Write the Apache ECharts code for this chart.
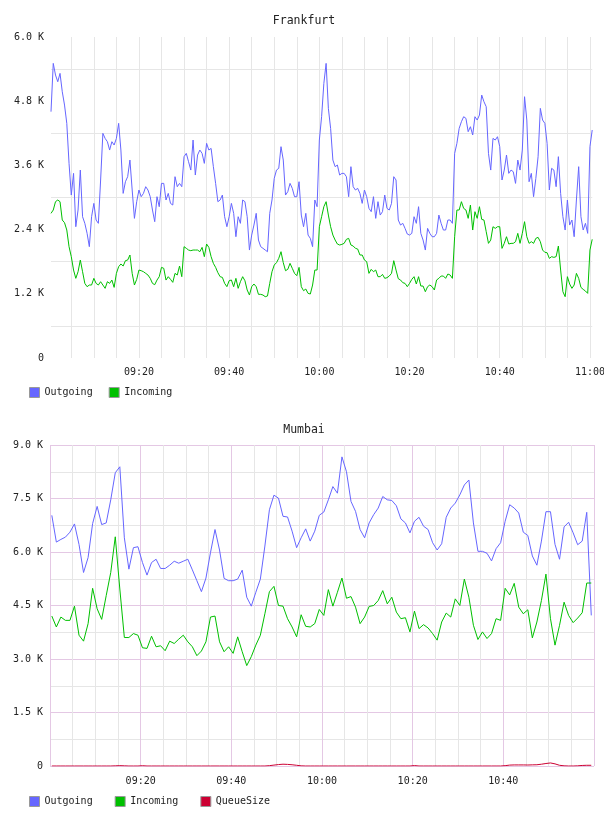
<!DOCTYPE html>
<html>
<head>
<meta charset="utf-8">
<title>Frankfurt / Mumbai</title>
<script src="https://cdn.jsdelivr.net/npm/echarts@6/dist/echarts.min.js"></script>
<style>
body{margin:0;background:#fff;}
#wrap{width:604px;height:816px;overflow:hidden;}
#main{width:608px;height:816px;}
</style>
</head>
<body>
<div id="wrap"><div id="main"></div></div>
<script>
// times are minutes after 09:00
var frankfurtStart = 0.5, frankfurtStep = 0.5;
var frankfurtOut = [
 4604,5507,5289,5164,5320,4977,4728,4386,3638,3046,
 3451,2454,2766,3513,2641,2517,2330,2081,2641,2890,
 2579,2517,3327,4199,4105,4043,3887,4043,3981,4105,
 4386,3887,3077,3295,3389,3700,3140,2610,2922,3140,
 3015,3077,3202,3140,3015,2766,2548,3015,2828,3264,
 3264,2953,3077,2890,2859,3389,3202,3264,3202,3763,
 3825,3669,3513,4074,3420,3794,3887,3825,3638,4012,
 3887,3918,3576,3264,2922,2953,3046,2641,2454,2641,
 2890,2704,2267,2641,2517,2953,2922,2641,2018,2298,
 2485,2704,2205,2081,2050,2018,1987,2704,2953,3358,
 3513,3545,3950,3700,3046,3108,3264,3171,3015,3015,
 3295,2672,2454,2704,2298,2236,2081,2953,2828,4074,
 4510,5133,5507,4666,4292,3700,3576,3607,3420,3451,
 3451,3389,3015,3576,3202,3140,3171,3077,2890,3140,
 3015,2797,2735,3015,2610,2922,2672,2735,3046,2797,
 2766,2890,3389,3327,2579,2485,2517,2423,2317,2298,
 2330,2641,2517,2828,2330,2205,2018,2423,2330,2267,
 2267,2330,2672,2517,2392,2392,2579,2579,2517,3825,
 4012,4292,4417,4510,4479,4230,4323,4168,4510,4448,
 4541,4915,4790,4697,3825,3513,4105,4074,4136,3950,
 3327,3513,3794,3451,3513,3482,3264,3700,3513,3887,
 4884,4448,3295,3451,3015,3358,3763,4666,4448,4386,
 4012,3140,3545,3513,3202,3763,3077,2641,2392,2953,
 2485,2579,2267,2953,3576,2641,2392,2517,2330,3950,
 4261
];
var frankfurtIn = [
 2704,2766,2922,2953,2922,2579,2529,2392,2081,1894,
 1644,1489,1613,1831,1613,1395,1333,1364,1364,1489,
 1395,1364,1426,1364,1302,1426,1395,1457,1320,1582,
 1707,1757,1719,1819,1831,1925,1582,1364,1470,1644,
 1632,1613,1582,1551,1489,1395,1370,1457,1520,1694,
 1676,1457,1520,1470,1414,1582,1551,1719,1520,2081,
 2050,2018,2006,2018,2018,2018,1987,2068,1894,2130,
 2068,1894,1769,1694,1595,1520,1507,1395,1333,1445,
 1458,1333,1489,1302,1426,1520,1445,1271,1177,1333,
 1383,1333,1190,1190,1177,1146,1159,1395,1613,1738,
 1782,1863,1987,1782,1632,1657,1769,1676,1582,1539,
 1694,1333,1258,1289,1208,1196,1364,1644,1644,2454,
 2641,2828,2922,2672,2454,2298,2205,2130,2112,2124,
 2143,2218,2236,2112,2093,2050,2037,1925,1925,1831,
 1800,1582,1657,1613,1644,1520,1520,1563,1489,1501,
 1532,1582,1819,1644,1483,1458,1408,1395,1333,1395,
 1470,1520,1383,1520,1345,1345,1239,1333,1364,1333,
 1271,1458,1489,1532,1532,1489,1570,1551,1489,2267,
 2766,2766,2922,2797,2766,2610,2859,2392,2735,2610,
 2828,2591,2579,2361,2143,2205,2454,2423,2454,2454,
 2049,2143,2267,2130,2143,2143,2174,2330,2143,2330,
 2548,2267,2143,2174,2143,2236,2255,2174,2018,1975,
 1968,1862,1894,1881,1894,2093,1644,1240,1146,1520,
 1383,1302,1364,1582,1489,1320,1283,1252,1208,2018,
 2218
];
var frankfurtLabelTimes = [20, 40, 60, 80, 100, 120];
var frankfurtGridTimes = [5,10,15,20,25,30,35,40,45,50,55,60,65,70,75,80,85,90,95,100,105,110,115,120];
var frankfurtYLabels = [0, 1200, 2400, 3600, 4800, 6000];
var frankfurtYGrid = [600, 1800, 3000, 4200, 5400];

var mumbaiStart = 0.4, mumbaiStep = 1;
var mumbaiOut = [
 7028,6278,6353,6417,6556,6787,6213,5426,5843,6797,
 7278,6769,6815,7463,8222,8389,6398,5519,6121,6148,
 5704,5352,5704,5797,5538,5538,5630,5741,5686,5741,
 5797,5500,5195,4889,5269,5982,6630,6056,5260,5195,
 5195,5241,5491,4732,4482,4871,5241,6167,7185,7593,
 7510,7000,6982,6584,6121,6399,6649,6306,6584,7028,
 7121,7463,7834,7649,8667,8251,7417,7139,6630,6399,
 6815,7047,7232,7556,7463,7445,7297,6927,6815,6537,
 6861,6973,6723,6630,6260,6056,6232,6973,7232,7371,
 7602,7880,8019,6815,6019,6019,5964,5750,6093,6260,
 6861,7325,7232,7093,6556,6463,5889,5630,6306,7130,
 7130,6213,5797,6704,6834,6537,6204,6306,7112,4223
];
var mumbaiIn = [
 4204,3898,4176,4083,4083,4482,3667,3500,3991,4982,
 4408,4111,4778,5426,6426,4963,3602,3602,3713,3667,
 3315,3297,3639,3343,3371,3232,3500,3435,3556,3667,
 3482,3343,3093,3223,3482,4176,4204,3482,3204,3343,
 3158,3621,3204,2815,3065,3389,3667,4269,4889,5037,
 4500,4482,4130,3898,3621,4241,3917,3898,3991,4389,
 4222,4945,4482,4871,5269,4704,4750,4454,3991,4176,
 4473,4500,4639,4917,4547,4732,4315,4130,4158,3760,
 4343,3852,3963,3870,3713,3528,4037,4287,4176,4686,
 4500,5241,4732,3945,3547,3760,3574,3713,4130,4083,
 4982,4797,5121,4454,4269,4380,3593,4037,4639,5380,
 4130,3389,3945,4593,4222,4019,4148,4297,5130,5130
];
var mumbaiQueue = [
 0,0,0,0,0,0,0,0,0,0,
 0,0,0,0,5,10,5,0,0,0,
 8,0,0,0,0,0,0,0,0,0,
 0,0,0,0,0,0,0,0,0,0,
 0,0,0,0,0,0,0,0,10,25,
 40,50,45,35,20,5,0,0,0,0,
 0,0,0,0,0,0,0,0,0,0,
 0,0,0,0,0,0,0,0,0,0,
 12,0,0,0,0,0,0,0,0,0,
 0,0,0,0,0,0,0,0,0,0,
 10,25,30,30,30,28,32,35,50,70,
 85,60,20,5,0,0,5,15,20,20
];
var mumbaiLabelTimes = [20, 40, 60, 80, 100];

var colOut = '#6666ff', colIn = '#00c000', colQueue = '#cc0033';
var gridGray = '#e6e6e6', gridPink = '#e4c8e4';
var mono = 'DejaVu Sans Mono';

function toPoints(values, start, step){
    return values.map(function(v, i){ return [start + i * step, v]; });
}
function pad(n){ return (n < 10 ? '0' : '') + n; }
function hhmm(m){
    m = Math.round(m);
    return pad(9 + Math.floor(m / 60)) + ':' + pad(m % 60);
}
function kFmt(v){ return v === 0 ? '0' : (v / 1000).toFixed(1) + ' K'; }

var labelStyle = {fontFamily: mono, fontSize: 10, color: '#222'};
var titleStyle = {fontFamily: mono, fontSize: 11.5, fontWeight: 'normal', color: '#222'};

function lineSeries(name, values, start, step, color, axis){
    return {
        name: name, type: 'line', xAxisIndex: axis, yAxisIndex: axis,
        data: toPoints(values, start, step),
        symbol: 'none', showSymbol: false,
        lineStyle: {width: 1, color: color},
        itemStyle: {color: color}
    };
}

var myChart = echarts.init(document.getElementById('main'));
var option = {
    animation: false,
    backgroundColor: '#fff',
    title: [
        {text: 'Frankfurt', left: 'center', top: 10, textStyle: titleStyle},
        {text: 'Mumbai', left: 'center', top: 419, textStyle: titleStyle}
    ],
    legend: [
        {data: ['Outgoing', 'Incoming'], left: 24, top: 382, icon: 'rect', itemWidth: 10, itemHeight: 10, itemGap: 16,
         textStyle: labelStyle, itemStyle: {borderColor: '#999', borderWidth: 1}},
        {data: ['Outgoing', 'Incoming', 'QueueSize'], left: 24, top: 791, icon: 'rect', itemWidth: 10, itemHeight: 10, itemGap: 22,
         textStyle: labelStyle, itemStyle: {borderColor: '#999', borderWidth: 1}}
    ],
    grid: [
        {left: 51, top: 37, width: 542, height: 321},
        {left: 50, top: 445, width: 544, height: 321}
    ],
    xAxis: [
        {
            type: 'value', gridIndex: 0, min: 0.5, max: 120.5,
            axisLine: {show: false},
            axisTick: {show: false, customValues: frankfurtGridTimes},
            axisLabel: Object.assign({customValues: frankfurtLabelTimes, margin: 9, formatter: hhmm}, labelStyle),
            splitLine: {show: true, lineStyle: {color: gridGray, width: 1}}
        },
        {
            type: 'value', gridIndex: 1, min: 0, max: 120, interval: 5,
            axisLine: {show: false},
            axisTick: {show: false},
            axisLabel: Object.assign({customValues: mumbaiLabelTimes, margin: 10, formatter: hhmm}, labelStyle),
            splitLine: {show: true, lineStyle: {color: [gridPink, gridGray, gridGray, gridGray], width: 1}}
        }
    ],
    yAxis: [
        {
            type: 'value', gridIndex: 0, min: 0, max: 6000,
            axisLine: {show: false},
            axisTick: {show: false, customValues: frankfurtYGrid},
            axisLabel: Object.assign({customValues: frankfurtYLabels, margin: 7, formatter: kFmt}, labelStyle),
            splitLine: {show: true, lineStyle: {color: gridGray, width: 1}}
        },
        {
            type: 'value', gridIndex: 1, min: 0, max: 9000, interval: 750,
            axisLine: {show: false},
            axisTick: {show: false},
            axisLabel: Object.assign({margin: 7, formatter: function(v){ return v % 1500 === 0 ? kFmt(v) : ''; }}, labelStyle),
            splitLine: {show: true, lineStyle: {color: [gridPink, gridGray], width: 1}}
        }
    ],
    series: [
        lineSeries('Outgoing', frankfurtOut, frankfurtStart, frankfurtStep, colOut, 0),
        lineSeries('Incoming', frankfurtIn, frankfurtStart, frankfurtStep, colIn, 0),
        lineSeries('Outgoing', mumbaiOut, mumbaiStart, mumbaiStep, colOut, 1),
        lineSeries('Incoming', mumbaiIn, mumbaiStart, mumbaiStep, colIn, 1),
        lineSeries('QueueSize', mumbaiQueue, mumbaiStart, mumbaiStep, colQueue, 1)
    ]
};
myChart.setOption(option);
</script>
</body>
</html>
